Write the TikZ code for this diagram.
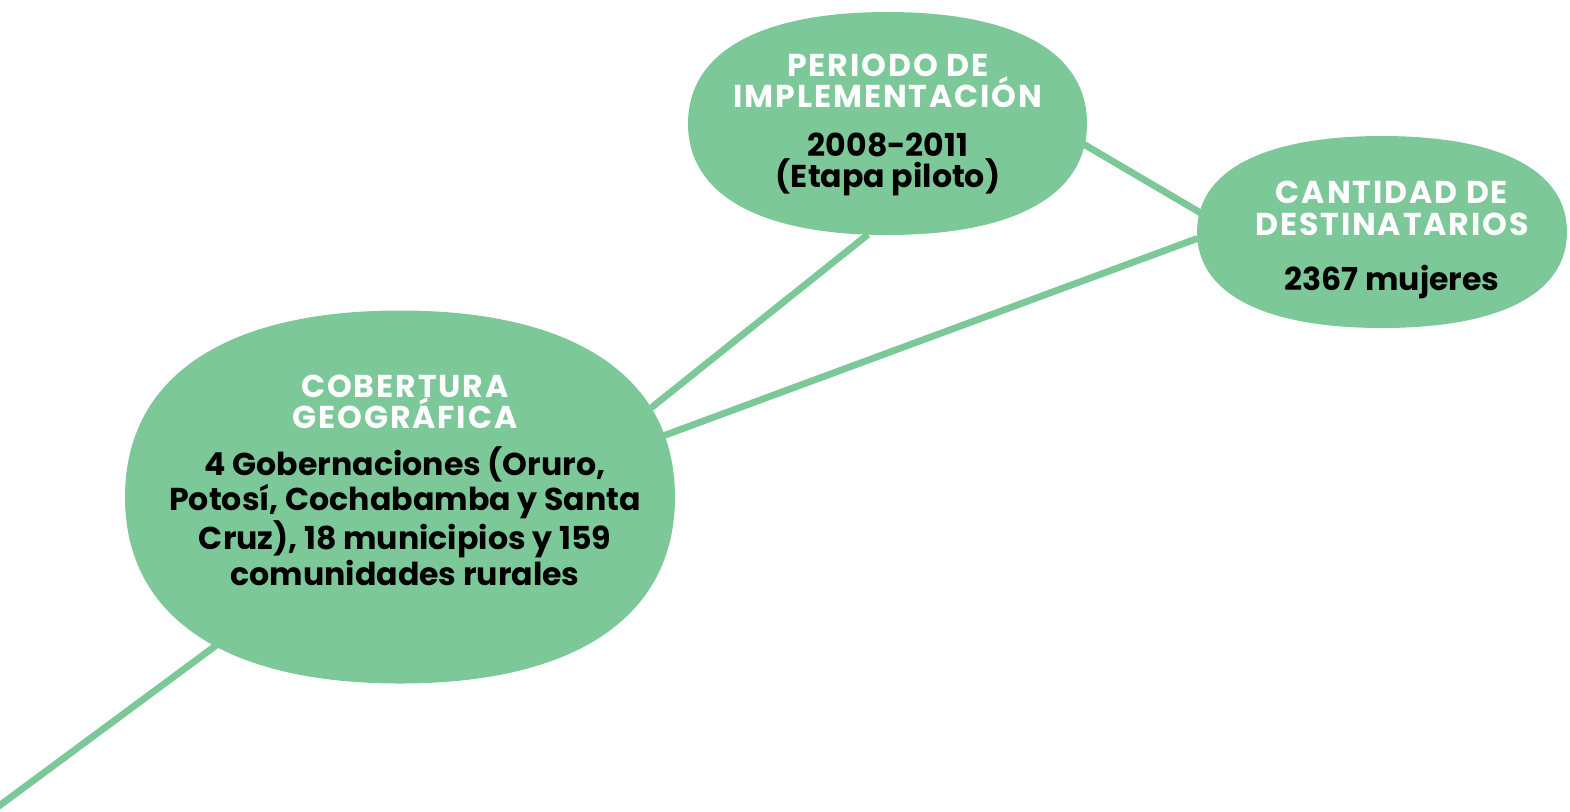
\documentclass[tikz,border=0pt]{standalone}
\usepackage{fontspec}
\setmainfont{Poppins}
\newfontfamily\titular{Poppins}[LetterSpace=6]
\usepackage{tikz}
\usetikzlibrary{shapes.geometric}

\definecolor{hoja}{RGB}{125,200,153}
\pgfdeclarelayer{ramas}
\pgfdeclarelayer{globos}
\pgfsetlayers{ramas,globos,main}

\tikzset{
	globo/.style={ellipse, inner sep=0pt, outer sep=0pt},
	rama/.style={draw=hoja, line width=3.4pt},
	texto/.style={align=center, font=\bfseries\fontsize{15.8}{15.6}\selectfont},
}
\newcommand{\blanco}[1]{{\titular\bfseries\color{white}#1}}
\newcommand{\inflar}[3]{%
	\fill[hoja] (#1.east) .. controls +(0,-0.64*#3) and +(0.64*#2,0) .. (#1.north)
		.. controls +(-0.64*#2,0) and +(0,-0.64*#3) .. (#1.west)
		.. controls +(0,0.64*#3) and +(-0.64*#2,0) .. (#1.south)
		.. controls +(0.64*#2,0) and +(0,0.64*#3) .. (#1.east) -- cycle;}

\begin{document}
\begin{tikzpicture}[x=0.5pt, y=-0.5pt]
		\useasboundingbox (0,0) rectangle (1570,811);
		% globos
		\node[globo, minimum width=199.5pt, minimum height=111.5pt] (periodo) at (887.5,123.5) {};
		\node[globo, minimum width=185pt, minimum height=96pt] (cantidad) at (1382,232) {};
		\node[globo, minimum width=275pt, minimum height=186.5pt] (cobertura) at (400,497) {};
		\begin{pgfonlayer}{globos}
			\inflar{periodo}{199.5}{111.5}
			\inflar{cantidad}{185}{96}
			\inflar{cobertura}{275}{186.5}
		\end{pgfonlayer}
		% textos
		\node[texto] (periodo-t) at (888,125) {\blanco{PERIODO DE}\\\blanco{IMPLEMENTACIÓN}\\[8.5pt]2008-2011\\(Etapa piloto)};
		\node[texto] (cantidad-t) at (1392,240) {\blanco{CANTIDAD DE}\\\blanco{DESTINATARIOS}\\[12pt]2367 mujeres};
		\node[texto] (cobertura-t) at (405,480) {\blanco{COBERTURA}\\\blanco{GEOGRÁFICA}\\[8pt]4 Gobernaciones (Oruro,\\Potosí, Cochabamba y Santa\\Cruz), 18 municipios y 159\\comunidades rurales};
		% ramas
		\coordinate (fuera) at (-20,820);
		\begin{pgfonlayer}{ramas}
			\draw[rama] (cobertura.19)--(periodo.260);
			\draw[rama] (cobertura.13)--(cantidad.182);
			\draw[rama] (periodo.354)--(cantidad.174);
			\draw[rama] (cobertura.219)--(fuera);
		\end{pgfonlayer}
	\end{tikzpicture}
\end{document}
